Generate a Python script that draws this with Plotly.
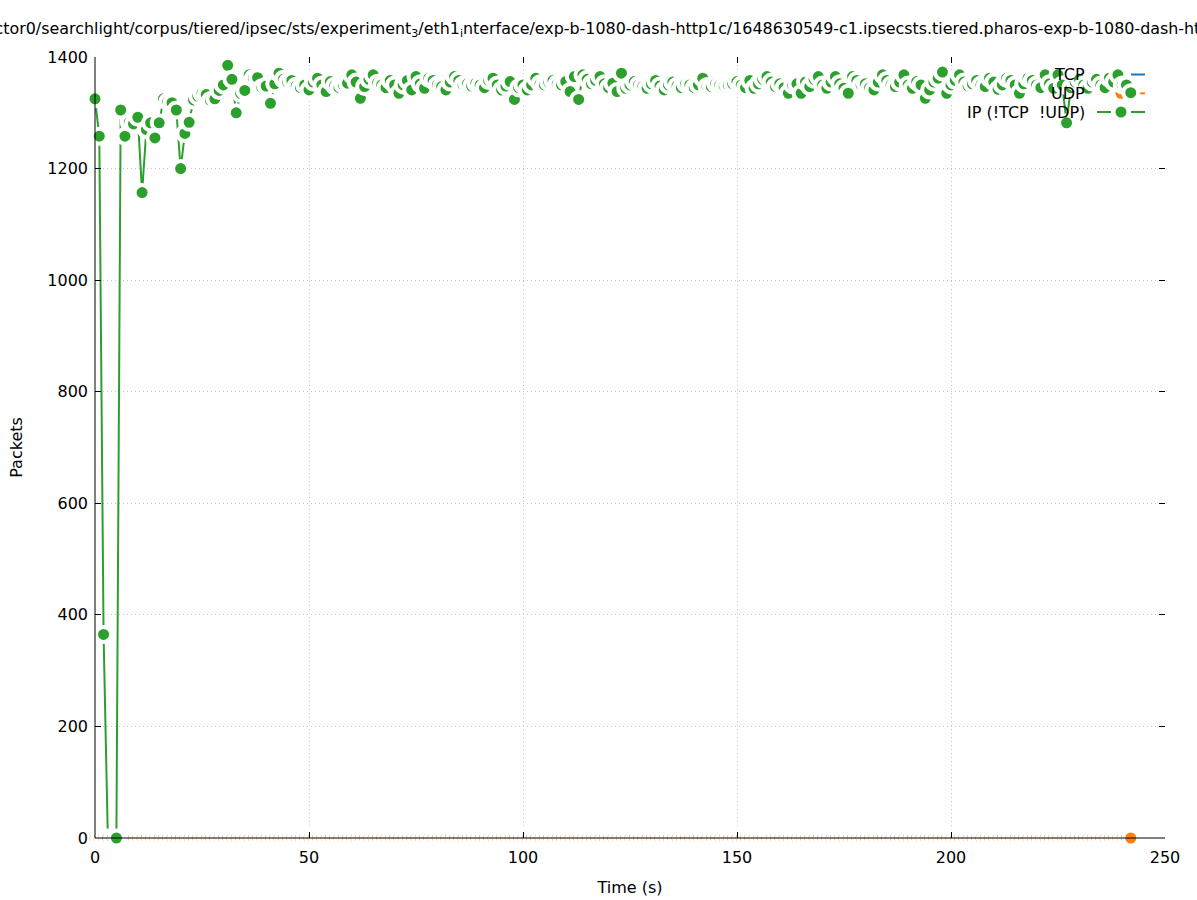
import plotly.graph_objects as go

# ---------------- data ----------------
time_s = list(range(0, 243))

ip_other = [
    1325, 1258, 365, 0, 0, 0, 1305, 1258, 1283, 1280,
    1292, 1157, 1270, 1282, 1255, 1282, 1325, 1320, 1318, 1305,
    1200, 1263, 1283, 1323, 1330, 1335, 1333, 1322, 1325, 1340,
    1350, 1385, 1360, 1300, 1335, 1340, 1368, 1362, 1363, 1345,
    1348, 1317, 1352, 1371, 1360, 1355, 1358, 1348, 1345, 1350,
    1341, 1355, 1362, 1350, 1338, 1356, 1348, 1345, 1350, 1353,
    1368, 1355, 1326, 1347, 1360, 1368, 1353, 1350, 1345, 1358,
    1350, 1335, 1350, 1358, 1341, 1365, 1352, 1344, 1362, 1358,
    1350, 1347, 1341, 1355, 1365, 1358, 1350, 1352, 1348, 1353,
    1350, 1345, 1358, 1362, 1350, 1341, 1348, 1356, 1324, 1345,
    1350, 1341, 1350, 1362, 1352, 1350, 1355, 1358, 1352, 1350,
    1356, 1338, 1365, 1324, 1368, 1360, 1352, 1358, 1365, 1352,
    1345, 1353, 1338, 1371, 1344, 1350, 1356, 1350, 1347, 1344,
    1352, 1358, 1348, 1341, 1350, 1355, 1348, 1345, 1352, 1350,
    1345, 1350, 1362, 1347, 1347, 1352, 1350, 1348, 1350, 1352,
    1356, 1350, 1345, 1358, 1344, 1352, 1360, 1365, 1355, 1347,
    1352, 1345, 1335, 1350, 1352, 1335, 1355, 1347, 1360, 1365,
    1350, 1344, 1355, 1365, 1352, 1344, 1335, 1365, 1358, 1350,
    1352, 1345, 1341, 1355, 1368, 1358, 1350, 1347, 1355, 1368,
    1350, 1344, 1356, 1350, 1326, 1341, 1355, 1362, 1373, 1335,
    1350, 1358, 1368, 1355, 1348, 1352, 1358, 1350, 1347, 1362,
    1355, 1342, 1350, 1362, 1358, 1350, 1335, 1352, 1362, 1358,
    1350, 1345, 1368, 1352, 1344, 1368, 1350, 1282, 1345, 1355,
    1360, 1350, 1344, 1355, 1360, 1350, 1345, 1362, 1355, 1368,
    1350, 1350, 1336,
]
tcp = [0] * len(time_s)
udp = [0] * len(time_s)

series_names = ["TCP", "UDP", "IP (!TCP  !UDP)"]
series_colors = ["#1f77b4", "#ff7f0e", "#2ca02c"]

x_ticks = [0, 50, 100, 150, 200, 250]
y_ticks = [0, 200, 400, 600, 800, 1000, 1200, 1400]

title_text = ("/vector0/searchlight/corpus/tiered/ipsec/sts/experiment<sub>3</sub>/"
              "eth1<sub>i</sub>nterface/exp-b-1080-dash-http1c/1648630549-c1.ipsecsts."
              "tiered.pharos-exp-b-1080-dash-http1c")

# ---------------- figure ----------------
W, H = 1197, 900
ML, MR, MT, MB = 95, 32, 57, 62
FONT = "DejaVu Sans"
FS = 16

fig = go.Figure()
for name, col, ys in zip(series_names, series_colors, [tcp, udp, ip_other]):
    fig.add_trace(go.Scatter(
        x=time_s, y=ys, name=name, mode="lines+markers",
        line=dict(color=col, width=2),
        marker=dict(color=col, size=15, line=dict(color="white", width=4)),
        cliponaxis=False, showlegend=False, hoverinfo="skip",
    ))

def px_x(px):
    return (px - ML) / (W - ML - MR)

def px_y(py):
    return (H - MB - py) / (H - MT - MB)

# legend (gnuplot-like key: text on the left, sample on the right)
rows_y = [74.5, 93.3, 112.0]
for name, col, ry in zip(series_names, series_colors, rows_y):
    yy = px_y(ry)
    for a, b in [(1097, 1111), (1131, 1145)]:
        fig.add_shape(type="line", xref="paper", yref="paper",
                      x0=px_x(a), x1=px_x(b), y0=yy, y1=yy,
                      line=dict(color=col, width=2), layer="below")
    fig.add_shape(type="circle", xref="paper", yref="paper",
                  xsizemode="pixel", ysizemode="pixel",
                  xanchor=px_x(1121), yanchor=yy,
                  x0=-5.5, x1=5.5, y0=-5.5, y1=5.5,
                  fillcolor=col, line=dict(width=0), layer="below")
    fig.add_annotation(text=name, xref="paper", yref="paper",
                       x=px_x(1087), y=yy, xanchor="right", yanchor="middle",
                       showarrow=False, font=dict(family=FONT, size=FS, color="black"))

# title (overflowing the page like the original)
fig.add_annotation(text=title_text, xref="paper", yref="paper",
                   x=px_x(-32), y=px_y(29), xanchor="left", yanchor="middle",
                   showarrow=False, font=dict(family=FONT, size=15.9, color="black"))

# left and bottom border
fig.add_shape(type="line", xref="paper", yref="paper", x0=0, x1=0, y0=0, y1=1,
              line=dict(color="black", width=1), layer="above")
fig.add_shape(type="line", xref="paper", yref="paper", x0=0, x1=1, y0=0, y1=0,
              line=dict(color="black", width=1), layer="above")

axis_common = dict(
    showline=False, mirror="ticks", ticks="inside", ticklen=6, tickwidth=1,
    tickcolor="black", showgrid=True, gridcolor="#c4c4c4", griddash="1px,3px",
    gridwidth=1, zeroline=False, automargin=False,
    tickfont=dict(family=FONT, size=FS, color="black"),
)

fig.update_xaxes(range=[0, 250], tickvals=x_ticks, ticktext=[str(v) for v in x_ticks],
                 ticklabelstandoff=8,
                 title=dict(text="Time (s)", font=dict(family=FONT, size=FS, color="black"), standoff=15),
                 **axis_common)
fig.update_yaxes(range=[0, 1400], tickvals=y_ticks, ticktext=[str(v) for v in y_ticks],
                 ticklabelstandoff=6,
                 title=dict(text="Packets", font=dict(family=FONT, size=FS, color="black"), standoff=20),
                 **axis_common)

fig.update_layout(
    width=W, height=H, autosize=False,
    margin=dict(l=ML, r=MR, t=MT, b=MB, pad=0),
    plot_bgcolor="white", paper_bgcolor="white",
    font=dict(family=FONT, size=FS, color="black"),
    showlegend=False,
)

fig.write_html("out.html", config={"displayModeBar": False},
               post_script="document.body.style.margin='0px';")
